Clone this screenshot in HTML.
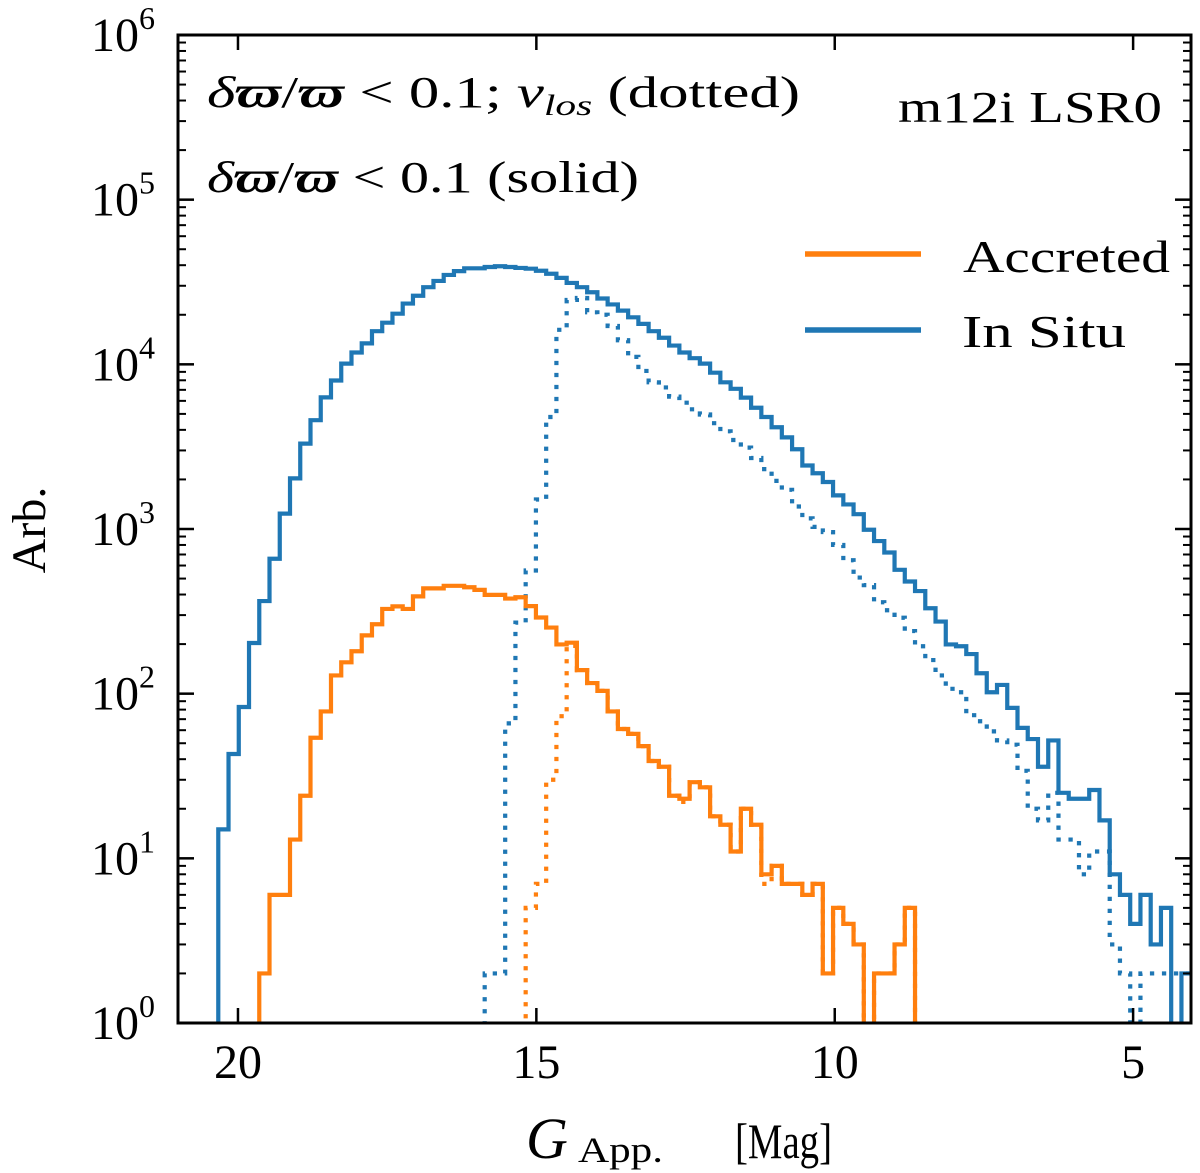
<!DOCTYPE html>
<html>
<head>
<meta charset="utf-8">
<style>
  html,body{margin:0;padding:0;background:#fff;}
  svg{display:block;}
  text{font-family:"Liberation Serif","DejaVu Serif",serif;fill:#000;}
</style>
</head>
<body>
<svg id="chart" width="1200" height="1173" viewBox="0 0 1200 1173" xmlns="http://www.w3.org/2000/svg">
  <defs>
    <clipPath id="plotclip"><rect x="178" y="35" width="1013" height="988"/></clipPath>
  </defs>
  <rect x="0" y="0" width="1200" height="1173" fill="#fff"/>
  <g id="series" clip-path="url(#plotclip)"></g>
  <g id="axes"></g>

  <text x="207" y="107" font-size="44" textLength="593" lengthAdjust="spacingAndGlyphs"><tspan font-style="italic">δ</tspan><tspan font-style="italic" font-weight="bold">ϖ</tspan>/<tspan font-style="italic" font-weight="bold">ϖ</tspan> &lt; 0.1; <tspan font-style="italic">v</tspan><tspan font-style="italic" font-size="30" dy="8">los</tspan><tspan dy="-8"> (dotted)</tspan></text>
  <text x="207" y="192" font-size="44" textLength="432" lengthAdjust="spacingAndGlyphs"><tspan font-style="italic">δ</tspan><tspan font-style="italic" font-weight="bold">ϖ</tspan>/<tspan font-style="italic" font-weight="bold">ϖ</tspan> &lt; 0.1 (solid)</text>
  <text x="898" y="122" font-size="44" textLength="264" lengthAdjust="spacingAndGlyphs">m12i LSR0</text>

  <g>
    <line x1="805" y1="254" x2="921" y2="254" stroke="#ff7f0e" stroke-width="5.5"/>
    <text x="963" y="272" font-size="46" textLength="207" lengthAdjust="spacingAndGlyphs">Accreted</text>
    <line x1="805" y1="330" x2="921" y2="330" stroke="#1f77b4" stroke-width="5.5"/>
    <text x="962" y="347" font-size="46" textLength="164" lengthAdjust="spacingAndGlyphs">In Situ</text>
  </g>

  <text transform="translate(45,530) rotate(-90)" text-anchor="middle" font-size="48">Arb.</text>
  <text x="526" y="1158" font-size="58" font-style="italic">G</text>
  <text x="578" y="1162" font-size="36" textLength="85" lengthAdjust="spacingAndGlyphs">App.</text>
  <text x="735" y="1158" font-size="50" textLength="97" lengthAdjust="spacingAndGlyphs">[Mag]</text>
</svg>
<script>
// ---- data ----
const binStart = 20.33;
const binWidth = 0.1717;
const inSituSolid = [15,43,83,203,365,660,1240,2030,3300,4580,6300,7980,10100,11800,13400,15900,17900,20300,23400,26100,29400,32100,34900,36800,38300,38300,39000,39400,39000,38500,38100,37000,35500,33500,31200,29400,27400,25100,23100,21200,19300,17600,15900,14500,13000,11800,10900,10100,8900,7780,7100,6280,5450,4790,4150,3600,3050,2430,2180,1930,1600,1410,1230,990,845,720,565,480,420,330,274,199,194,174,133,102,113,82,62,53,36,52,25,23,23,26,17,8,6,4,6,3,5,0,2];
const inSituDotted = [0,0,0,0,0,0,0,0,0,0,0,0,0,0,0,0,0,0,0,0,0,0,0,0,0,0,2,2,66,270,560,1510,4790,16200,24600,25300,20700,20000,17100,14000,11100,9120,7780,7240,6370,5850,5330,4960,4390,3920,3470,3120,2700,2310,1960,1730,1370,1160,1030,958,800,646,507,456,359,321,289,240,194,160,129,107,102,74,68,59,52,49,34,20,17,25,13,13,8,11,11,3,2,1,2,2,2,2,2];
const accretedSolid = [0,0,0,0,2,6,6,13,24,54,78,129,155,181,226,264,327,339,327,390,436,436,452,452,443,427,398,398,378,385,340,290,252,199,204,139,116,104,78,61,57,48,39,36,24,23,29,27,18,16,11,20,16,8,9,7,7,6,7,2,5,4,3,0,2,2,3,5,0,0,0,0,0,0,0,0,0,0,0,0,0,0,0,0,0,0,0,0,0,0,0,0,0,0,0];
const accretedDotted = [0,0,0,0,0,0,0,0,0,0,0,0,0,0,0,0,0,0,0,0,0,0,0,0,0,0,0,0,0,0,5,7,30,73,195,139,116,104,78,61,57,48,39,36,24,22,29,27,18,16,11,20,16,7,9,7,7,6,7,2,5,4,3,0,2,2,3,5,0,0,0,0,0,0,0,0,0,0,0,0,0,0,0,0,0,0,0,0,0,0,0,0,0,0,0];
const xTicks = [20,15,10,5];
const xTickLabels = ["20","15","10","5"];
const yDecades = [0,1,2,3,4,5,6];

// ---- scales ----
const X0 = 178, X1 = 1191, Y0 = 35, Y1 = 1023;
const magMin = 21.005, magMax = 4.03;
function xs(m){ return X0 + (magMin - m) / (magMin - magMax) * (X1 - X0); }
function ys(v){ if (v <= 0) return Y1 + 60; return Y1 - Math.log10(v) / 6 * (Y1 - Y0); }

const NS = "http://www.w3.org/2000/svg";
const series = document.getElementById('series');
const axes = document.getElementById('axes');

function stepPath(vals){
  let d = "M" + xs(binStart).toFixed(2) + "," + ys(0).toFixed(2);
  for (let i = 0; i < vals.length; i++){
    const xa = xs(binStart - i * binWidth), xb = xs(binStart - (i + 1) * binWidth), y = ys(vals[i]);
    d += " L" + xa.toFixed(2) + "," + y.toFixed(2) + " L" + xb.toFixed(2) + "," + y.toFixed(2);
  }
  d += " L" + xs(binStart - vals.length * binWidth).toFixed(2) + "," + ys(0).toFixed(2);
  return d;
}
function addSeries(vals, color, dotted, name){
  const p = document.createElementNS(NS, 'path');
  p.setAttribute('d', stepPath(vals));
  p.setAttribute('fill', 'none');
  p.setAttribute('stroke', color);
  p.setAttribute('stroke-width', '4.2');
  p.setAttribute('stroke-linejoin', 'miter');
  if (dotted) p.setAttribute('stroke-dasharray', '4.3 7.7');
  
  
  series.appendChild(p);
}
addSeries(inSituDotted, '#1f77b4', true, 'insitu-dotted-histogram');
addSeries(accretedDotted, '#ff7f0e', true, 'accreted-dotted-histogram');
addSeries(inSituSolid, '#1f77b4', false, 'insitu-solid-histogram');
addSeries(accretedSolid, '#ff7f0e', false, 'accreted-solid-histogram');

function line(x1,y1,x2,y2,w,name){
  const l = document.createElementNS(NS, 'line');
  l.setAttribute('x1', x1); l.setAttribute('y1', y1);
  l.setAttribute('x2', x2); l.setAttribute('y2', y2);
  l.setAttribute('stroke', '#000'); l.setAttribute('stroke-width', w);
  
  
  axes.appendChild(l);
}
xTicks.forEach((m, i) => {
  const x = xs(m);
  line(x, Y1, x, Y1 - 15, 2.5, 'x-tick');
  line(x, Y0, x, Y0 + 15, 2.5, 'x-tick-top');
  const t = document.createElementNS(NS, 'text');
  t.setAttribute('x', x); t.setAttribute('y', 1078);
  t.setAttribute('text-anchor', 'middle'); t.setAttribute('font-size', '48');
  t.textContent = xTickLabels[i];
  
  
  axes.appendChild(t);
});
yDecades.forEach((e) => {
  const y = ys(Math.pow(10, e));
  line(X0, y, X0 + 16, y, 2.5, 'y-tick');
  line(X1, y, X1 - 16, y, 2.5, 'y-tick-right');
  if (e < 6){
    for (let k = 2; k <= 9; k++){
      const ym = ys(k * Math.pow(10, e));
      line(X0, ym, X0 + 8, ym, 2, 'y-minor-tick');
      line(X1, ym, X1 - 8, ym, 2, 'y-minor-tick-right');
    }
  }
  const t = document.createElementNS(NS, 'text');
  t.setAttribute('x', 155); t.setAttribute('y', y + 16);
  t.setAttribute('text-anchor', 'end'); t.setAttribute('font-size', '48');
  t.innerHTML = '10<tspan font-size="32" dy="-22">' + e + '</tspan>';
  
  
  axes.appendChild(t);
});
const fr = document.createElementNS(NS, 'rect');
fr.setAttribute('x', X0); fr.setAttribute('y', Y0);
fr.setAttribute('width', X1 - X0); fr.setAttribute('height', Y1 - Y0);
fr.setAttribute('fill', 'none'); fr.setAttribute('stroke', '#000'); fr.setAttribute('stroke-width', '3');


axes.appendChild(fr);
</script>
</body>
</html>
